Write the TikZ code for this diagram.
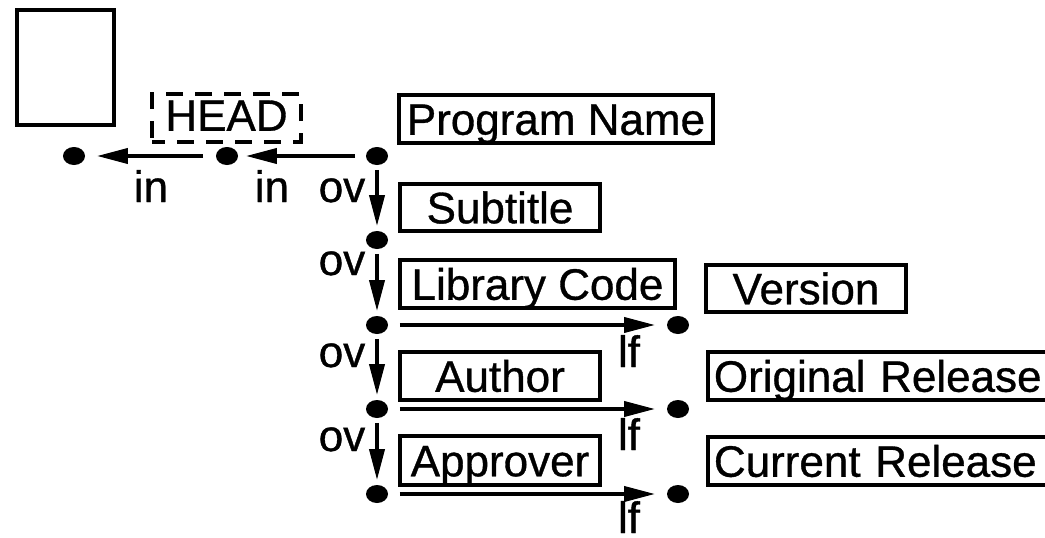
\documentclass[tikz,border=0pt]{standalone}
\usepackage{fontspec}
\setmainfont[FakeBold=0.8]{Liberation Sans}
\usetikzlibrary{arrows.meta,shapes.geometric}

\begin{document}
\begin{tikzpicture}[x=1pt, y=-1pt, line width=3.8pt,
  every node/.style={font=\fontsize{44}{50}\selectfont},
  box/.style={draw, rectangle, inner xsep=0pt, inner ysep=0pt,
              text height=31.5pt, text depth=0pt},
  openbox/.style={box, anchor=west, text width=360pt, align=left, inner xsep=6pt},
  dot/.style={ellipse, fill=black, inner sep=0pt, minimum width=22pt, minimum height=18pt},
  link/.style={-{Triangle[length=31pt,width=15pt]}, line width=3.8pt},
  lbl/.style={anchor=base, inner sep=0pt}]

% page frame; the two long boxes on the right run past it
\clip (0,0) rectangle (1045,538);

% record boxes
\node[box, minimum width=97pt, minimum height=115pt] (frame) at (65.5,67.5) {};
\node[box, dashed, dash pattern=on 17pt off 12pt, dash phase=4pt, text depth=6pt,
      minimum width=149pt, minimum height=48pt] (head) at (226.5,118) {HEAD};
\node[box, minimum width=314pt, minimum height=48pt] (prog) at (556,119) {Program Name};
\node[box, minimum width=200pt, minimum height=47pt] (sub)  at (500,207.5) {Subtitle};
\node[box, minimum width=275pt, minimum height=48pt] (lib)  at (537.5,284) {Library Code};
\node[box, minimum width=200pt, minimum height=48pt] (auth) at (500,376) {Author};
\node[box, minimum width=200pt, minimum height=49pt] (appr) at (500,460.5) {Approver};
\node[box, minimum width=200pt, minimum height=47pt] (ver)  at (806,288.5) {Version};
\node[openbox, minimum height=48pt] (orig) at (706,376) {Original Release};
\node[openbox, minimum height=48pt] (curr) at (706,461) {Current Release};

% junction points
\node[dot] (d0) at (74,156) {};
\node[dot] (d1) at (227,156) {};
\node[dot] (p0) at (377,156) {};
\node[dot] (p1) at (377,240) {};
\node[dot] (p2) at (377,325) {};
\node[dot] (p3) at (377,409) {};
\node[dot] (p4) at (377,494) {};
\node[dot] (q2) at (678,325) {};
\node[dot] (q3) at (678,409) {};
\node[dot] (q4) at (678,494) {};

% "in" links towards the left
\draw[link, shorten <=9pt, shorten >=6pt] (p0) -- (d1);
\draw[link, shorten <=11pt, shorten >=10pt] (d1) -- (d0);

% "ov" chain going down
\draw[link, shorten <=3pt, shorten >=3pt] (p0) -- (p1);
\draw[link, shorten <=3pt, shorten >=3pt] (p1) -- (p2);
\draw[link, shorten <=3pt, shorten >=3pt] (p2) -- (p3);
\draw[link, shorten <=3pt, shorten >=3pt] (p3) -- (p4);

% "lf" links to the right
\draw[link, shorten <=10pt, shorten >=10pt] (p2) -- (q2);
\draw[link, shorten <=10pt, shorten >=10pt] (p3) -- (q3);
\draw[link, shorten <=10pt, shorten >=10pt] (p4) -- (q4);

% link labels
\node[lbl] (in1) at (151,202) {in};
\node[lbl] (in2) at (272,202) {in};
\node[lbl] (ov1) at (342,202) {ov};
\node[lbl] (ov2) at (342,275) {ov};
\node[lbl] (ov3) at (342,367) {ov};
\node[lbl] (ov4) at (342,451) {ov};
\node[lbl] (lf1) at (629,367) {lf};
\node[lbl] (lf2) at (629,450) {lf};
\node[lbl] (lf3) at (629,533) {lf};
\end{tikzpicture}
\end{document}
